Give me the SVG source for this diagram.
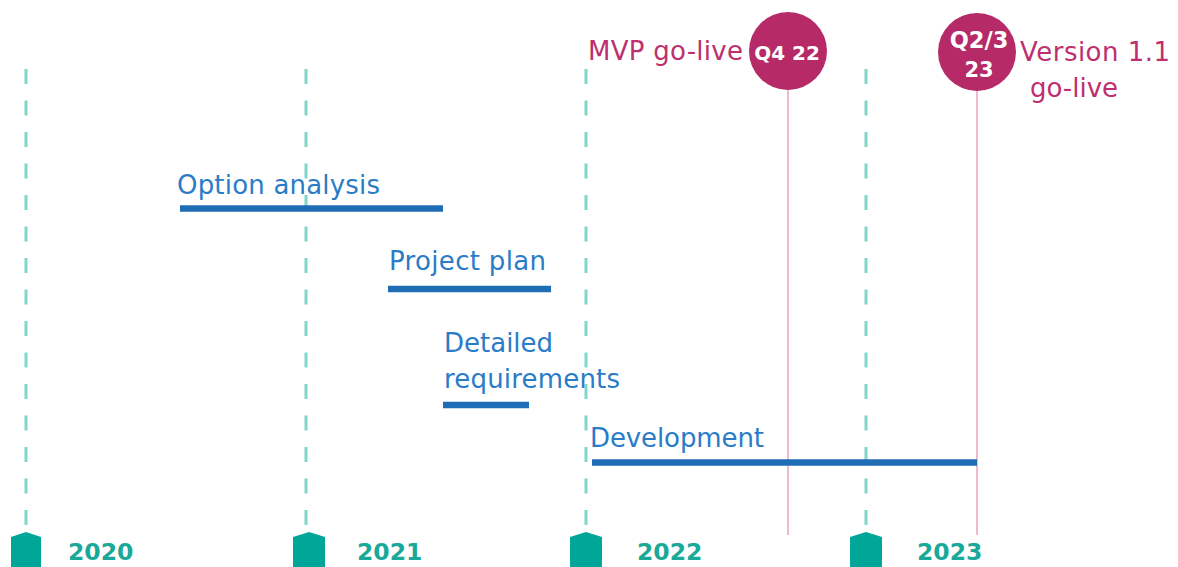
<svg xmlns="http://www.w3.org/2000/svg" width="1178" height="567" viewBox="0 0 1178 567">
<style>
.grid{stroke:#7fd6ca;stroke-width:3;stroke-dasharray:15 16.5;fill:none}
.pin{stroke:#efb9d1;stroke-width:2;fill:none}
.bar{stroke:#1f6db5;stroke-width:6.5;fill:none}
.lbl{font-family:"DejaVu Sans","Verdana",sans-serif;font-size:26px;fill:#2a7cc7}
.ms{font-family:"DejaVu Sans","Verdana",sans-serif;font-size:26px;fill:#bd306d}
.yr{font-family:"DejaVu Sans","Verdana",sans-serif;font-size:23.5px;font-weight:bold;fill:#1aa899}
.circ{fill:#b52a67}
.ct{font-family:"DejaVu Sans","Verdana",sans-serif;font-size:20px;font-weight:bold;fill:#ffffff;text-anchor:middle}
.mk{fill:#00a697}
</style>
<rect width="1178" height="567" fill="#ffffff"/>
<g id="connectors">
<line class="grid" x1="26" y1="69" x2="26" y2="526"/>
<line class="grid" x1="306" y1="69" x2="306" y2="526"/>
<line class="grid" x1="586" y1="69" x2="586" y2="526"/>
<line class="grid" x1="866" y1="69" x2="866" y2="526"/>
<line class="pin" x1="788" y1="88" x2="788" y2="535"/>
<line class="pin" x1="977" y1="88" x2="977" y2="535"/>
</g>
<g id="year-2020">
<path class="mk" d="M11 537 L26 532 L41 537 L41 567 L11 567 Z"/>
<text class="yr" x="68" y="560">2020</text>
</g>
<g id="year-2021">
<path class="mk" d="M293 537 L309 532 L325 537 L325 567 L293 567 Z"/>
<text class="yr" x="357" y="560">2021</text>
</g>
<g id="year-2022">
<path class="mk" d="M570 537 L586 532 L602 537 L602 567 L570 567 Z"/>
<text class="yr" x="637" y="560">2022</text>
</g>
<g id="year-2023">
<path class="mk" d="M850 537 L866 532 L882 537 L882 567 L850 567 Z"/>
<text class="yr" x="917" y="560">2023</text>
</g>
<g id="option-analysis">
<text class="lbl" x="177" y="194" textLength="203">Option analysis</text>
<line class="bar" x1="180" y1="208.5" x2="443" y2="208.5"/>
</g>
<g id="project-plan">
<text class="lbl" x="389" y="269.5" textLength="157">Project plan</text>
<line class="bar" x1="388" y1="289" x2="551" y2="289"/>
</g>
<g id="detailed-requirements">
<text class="lbl" x="444" y="351.5">Detailed</text>
<text class="lbl" x="444" y="388" textLength="176">requirements</text>
<line class="bar" x1="443" y1="405" x2="529" y2="405"/>
</g>
<g id="development">
<text class="lbl" x="590" y="447" textLength="174">Development</text>
<line class="bar" x1="592" y1="462.5" x2="977" y2="462.5"/>
</g>
<g id="mvp-go-live">
<text class="ms" x="588" y="59.5" textLength="155">MVP go-live</text>
<circle class="circ" cx="788" cy="51" r="39"/>
<text class="ct" x="787" y="60">Q4 22</text>
</g>
<g id="version-1-1-go-live">
<circle class="circ" cx="977" cy="52" r="39"/>
<text class="ct" x="979" y="48" style="font-size:22.5px">Q2/3</text>
<text class="ct" x="979" y="77" style="font-size:21px">23</text>
<text class="ms" x="1020" y="61" textLength="150">Version 1.1</text>
<text class="ms" x="1030" y="97" textLength="88">go-live</text>
</g>
</svg>
